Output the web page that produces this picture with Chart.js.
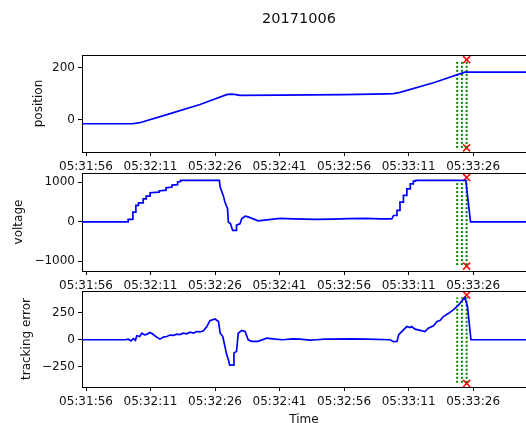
<!DOCTYPE html>
<html lang="en">
<head>
<meta charset="UTF-8">
<title>20171006</title>
<style>
  html, body { margin: 0; padding: 0; background: #fff; overflow: hidden; width: 526px; height: 423px; }
  canvas { position: absolute; left: 0; }
</style>
</head>
<body>
<canvas id="pos" width="526" height="182" style="top:0px"></canvas>
<canvas id="volt" width="526" height="141" style="top:160px"></canvas>
<canvas id="err" width="526" height="150" style="top:280px"></canvas>

<script src="https://cdn.jsdelivr.net/npm/chart.js@4.4.1/dist/chart.umd.min.js"></script>
<script>
// seconds after 05:31:56
var tickSeconds = [0, 15, 30, 45, 60, 75, 90];
var timeLabels = ['05:31:56', '05:32:11', '05:32:26', '05:32:41', '05:32:56', '05:33:11', '05:33:26'];

var posTime   = [-1, 10.8, 12.5, 18.8, 26.5, 32.7, 33.5, 34.5, 35.8, 45, 60, 70, 71.5, 73, 80.8, 88.1, 103];
var posValues = [-16, -16, -12, 19, 58, 96, 98, 97, 93, 94, 96, 99, 100, 105, 142, 183, 183];

var voltTime = [-1, 9.8, 9.8, 10.9, 10.9, 11.6, 11.6, 12.2, 12.2, 13.3, 13.3, 14.0, 14.0, 14.9, 14.9, 17.0, 17.0, 18.6, 18.6, 20.0,
  20.0, 21.3, 21.3, 22.0, 22.0, 31.0, 31.2, 31.9, 32.3, 32.9, 33.1, 33.6, 34.1, 34.9, 35.0, 35.8, 36.2, 37.0, 37.7, 38.3,
  40.0, 42.0, 45.1, 48.2, 53.6, 57.5, 61.0, 65.3, 68.4, 71.1, 71.5, 72.3, 72.3, 73.0, 73.0, 73.8, 73.8, 74.6, 74.6, 75.4,
  75.4, 76.1, 76.1, 76.6, 76.6, 88.3, 89.4, 103];
var voltValues = [0, 0, 60, 60, 245, 245, 415, 415, 480, 480, 580, 580, 650, 650, 735, 750, 780, 800, 860, 880,
  930, 940, 1010, 1020, 1050, 1050, 880, 668, 500, 330, -8, -50, -218, -218, -85, -50, 76, 145, 125, 100,
  25, 50, 85, 75, 60, 70, 80, 85, 75, 75, 160, 160, 290, 290, 500, 500, 670, 670, 835, 835,
  960, 960, 1030, 1030, 1050, 1050, 0, 0];

var errTime = [-1, 9.1, 9.8, 10.5, 11.0, 11.5, 11.8, 12.5, 13.0, 13.6, 14.1, 14.9, 15.4, 16.0, 16.6, 17.2, 18.0, 18.8, 19.5, 20.3,
  21.1, 21.8, 22.6, 23.4, 24.2, 25.0, 25.7, 26.5, 27.3, 28.1, 28.8, 30.0, 30.8, 31.2, 31.8, 32.3, 32.7, 33.1, 33.4, 34.4,
  34.4, 35.0, 35.4, 36.2, 37.0, 37.7, 38.5, 40.0, 42.0, 44.0, 45.8, 48.0, 49.8, 52.0, 53.6, 55.5, 57.5, 61.4, 65.3, 70.7,
  71.5, 72.3, 72.7, 73.8, 74.6, 75.3, 75.7, 76.5, 77.7, 78.8, 79.6, 80.8, 81.6, 82.3, 83.1, 84.3, 85.4, 86.6, 87.4, 88.1,
  88.7, 89.5, 103];
var errValues = [0, 0, 5, -10, 10, -5, 37, 30, 61, 45, 50, 67, 55, 37, 20, 6, 25, 30, 43, 40,
  52, 48, 61, 55, 70, 62, 76, 72, 82, 122, 177, 192, 168, 61, 30, -61, -137, -183, -235, -235,
  -122, -107, 61, 85, 76, 0, -15, -15, 15, 5, 0, 8, 6, -3, 0, 5, 6, 8, 6, 0,
  -18, -15, 46, 92, 122, 113, 122, 98, 86, 76, 107, 128, 168, 177, 214, 244, 275, 320, 360, 391,
  305, 0, 0];

// green dotted guides and red crosses
var guideTimes = [86.3, 87.4, 88.5];
var markTime = 88.5;
var posGuide = [-109, 224],   posMarks = [231, -109];
var voltGuide = [-1096, 1055], voltMarks = [1124, -1121];
var errGuide = [-397, 391],   errMarks = [412, -403];

var positionTicks = [0, 200];
var voltageTicks = [-1000, 0, 1000];
var errorTicks = [-250, 0, 250];

Chart.defaults.font.family = '"DejaVu Sans", sans-serif';
Chart.defaults.font.size = 12;
Chart.defaults.color = '#111';

var topSpine = {
  id: 'topSpine',
  afterDraw: function (chart) {
    var a = chart.chartArea, c = chart.ctx;
    c.save();
    c.strokeStyle = '#000';
    c.lineWidth = 1;
    c.beginPath();
    c.moveTo(a.left, Math.round(a.top) + 0.5);
    c.lineTo(a.right, Math.round(a.top) + 0.5);
    c.stroke();
    c.restore();
  }
};

var figTitle = {
  id: 'figTitle',
  afterDraw: function (chart) {
    var c = chart.ctx;
    c.save();
    c.font = '14.5px "DejaVu Sans"';
    c.fillStyle = '#111';
    c.textAlign = 'center';
    c.textBaseline = 'middle';
    c.fillText('20171006', 299, 19);
    c.restore();
  }
};

function minus(v) { return String(v).replace('-', '\u2212'); }

function makePanel(id, o) {
  var pts = o.t.map(function (t, i) { return { x: t, y: o.v[i] }; });
  var sets = [{ data: pts, borderColor: '#0000ff', borderWidth: 1.7, pointRadius: 0, tension: 0 }];
  guideTimes.forEach(function (t) {
    sets.push({
      data: [{ x: t, y: o.guide[0] }, { x: t, y: o.guide[1] }],
      borderColor: '#008000', borderWidth: 2, borderDash: [2, 2], pointRadius: 0
    });
  });
  sets.push({
    data: [{ x: markTime, y: o.marks[0] }, { x: markTime, y: o.marks[1] }],
    showLine: false, pointStyle: 'crossRot', pointRadius: 5,
    borderColor: '#ff0000', pointBorderColor: '#ff0000', pointBorderWidth: 1.5
  });

  var plugins = [topSpine];
  if (o.title) plugins.push(figTitle);

  return new Chart(document.getElementById(id), {
    type: 'line',
    data: { datasets: sets },
    options: {
      responsive: false,
      animation: false,
      devicePixelRatio: 1,
      layout: { autoPadding: false, padding: { top: o.padTop, left: 0, right: 0, bottom: 0 } },
      plugins: { legend: { display: false }, tooltip: { enabled: false } },
      scales: {
        x: {
          type: 'linear', min: -0.93, max: 102.3,
          afterFit: function (s) { s.height = o.xHeight; },
          afterBuildTicks: function (s) { s.ticks = tickSeconds.map(function (v) { return { value: v }; }); },
          ticks: { padding: 4, maxRotation: 0, autoSkip: false,
            callback: function (v) { return timeLabels[tickSeconds.indexOf(v)]; } },
          grid: { drawOnChartArea: false, drawTicks: true, tickLength: 4, color: '#000' },
          border: { display: true, color: '#000', width: 1 },
          title: { display: !!o.xTitle, text: o.xTitle || '', padding: { top: 0, bottom: 3 } }
        },
        y: {
          min: o.yMin, max: o.yMax,
          afterFit: function (s) { s.width = 82; },
          afterBuildTicks: function (s) { s.ticks = o.ticks.map(function (v) { return { value: v }; }); },
          ticks: { padding: 3, callback: function (v) { return minus(v); } },
          grid: { drawOnChartArea: false, drawTicks: true, tickLength: 4, color: '#000' },
          border: { display: true, color: '#000', width: 1 },
          title: { display: true, text: o.label, padding: { top: o.labelPad, bottom: o.labelPad } }
        }
      }
    },
    plugins: plugins
  });
}

makePanel('pos', {
  t: posTime, v: posValues, guide: posGuide, marks: posMarks,
  yMin: -125, yMax: 249, ticks: positionTicks, label: 'position', labelPad: 32,
  padTop: 55, xHeight: 30, title: true
});
makePanel('volt', {
  t: voltTime, v: voltValues, guide: voltGuide, marks: voltMarks,
  yMin: -1245, yMax: 1235, ticks: voltageTicks, label: 'voltage', labelPad: 12,
  padTop: 13, xHeight: 30
});
makePanel('err', {
  t: errTime, v: errValues, guide: errGuide, marks: errMarks,
  yMin: -436, yMax: 450, ticks: errorTicks, label: 'tracking error', labelPad: 20,
  padTop: 11, xHeight: 43, xTitle: 'Time'
});
</script>
</body>
</html>
